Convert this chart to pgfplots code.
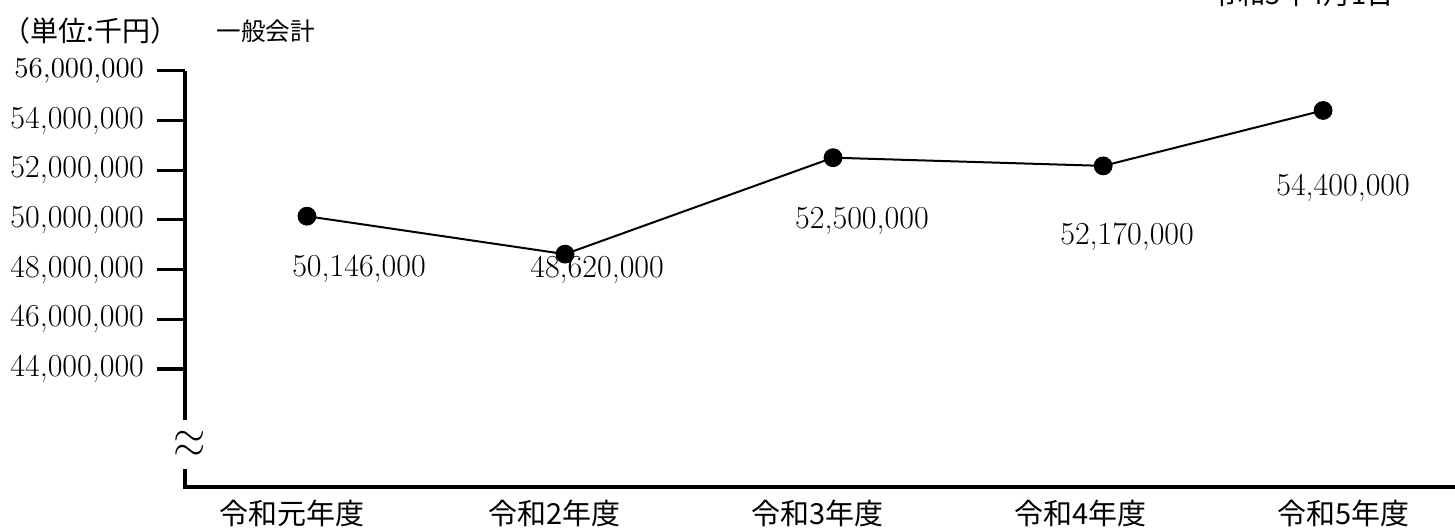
\documentclass[border=0pt]{standalone}
\usepackage{fontspec}
\newfontfamily\cjk{Noto Sans CJK JP}
\usepackage{pgfplots}
\pgfplotsset{compat=1.18}
\begin{document}
\begin{tikzpicture}
\useasboundingbox (0,0) rectangle (727.5pt,265pt);
\begin{axis}[
    at={(92.5pt,21.5pt)}, anchor=south west,
    scale only axis, width=635pt, height=208.15pt,
    xmin=-0.4072, xmax=4.426,
    ymin=39250000, ymax=56000000,
    axis lines=left,
    axis line style={draw=none},
    clip=false,
    xtick={0,1,2,3,4},
    xticklabels={令和元年度,令和2年度,令和3年度,令和4年度,令和5年度},
    xticklabel style={font=\cjk\fontsize{14.5}{16}\selectfont, yshift=11pt},
    xtick style={draw=none},
    ytick={44000000,46000000,48000000,50000000,52000000,54000000},
    extra y ticks={56000000},
    extra y tick style={yticklabel style={font=\fontsize{14.5}{16}\selectfont}},
    scaled y ticks=false,
    yticklabel style={font=\fontsize{16}{18}\selectfont, xshift=-3pt,
        /pgf/number format/fixed, /pgf/number format/precision=0,
        /pgf/number format/1000 sep={,}, /pgf/number format/assume math mode=true},
    tick align=outside,
    major tick length=14pt,
    ytick style={line width=1.6pt, black},
]
\addplot [black, line width=1pt, mark=*, mark size=4.2pt] coordinates {
    (0.057, 50146000)
    (1.039, 48620000)
    (2.059, 52500000)
    (3.087, 52170000)
    (3.924, 54400000)
};
\begin{scope}[font=\fontsize{16}{18}\selectfont]
\node at (axis cs:0.255, 48020000) {50,146,000};
\node at (axis cs:1.161, 47980000) {48,620,000};
\node at (axis cs:2.169, 49950000) {52,500,000};
\node at (axis cs:3.178, 49310000) {52,170,000};
\node at (axis cs:4.000, 51280000) {54,400,000};
\end{scope}
\draw [line width=1.6pt] (axis cs:-0.4072, 56000000) -- (axis cs:-0.4072, 41950000);
\draw [line width=1.6pt] (axis cs:-0.4072, 39980000) -- (rel axis cs:0,0) -- (rel axis cs:1,0);
\node [font=\fontsize{20}{20}\selectfont, inner sep=0pt] at ([xshift=2.5pt]axis cs:-0.4072, 41184000) {$\sim$};
\node [font=\fontsize{20}{20}\selectfont, inner sep=0pt] at ([xshift=2.5pt]axis cs:-0.4072, 40620000) {$\sim$};
\end{axis}
\node [font=\cjk\fontsize{14}{16}\selectfont, anchor=west, inner sep=0pt] at (1pt, 249.5pt) {（単位:千円）};
\node [font=\cjk\fontsize{12.3}{14}\selectfont, anchor=west, inner sep=0pt] at (108pt, 249.5pt) {一般会計};
\node [font=\cjk\fontsize{13.7}{15}\selectfont, anchor=east, inner sep=0pt] at (697pt, 268pt) {令和5年4月1日};
\end{tikzpicture}
\end{document}
